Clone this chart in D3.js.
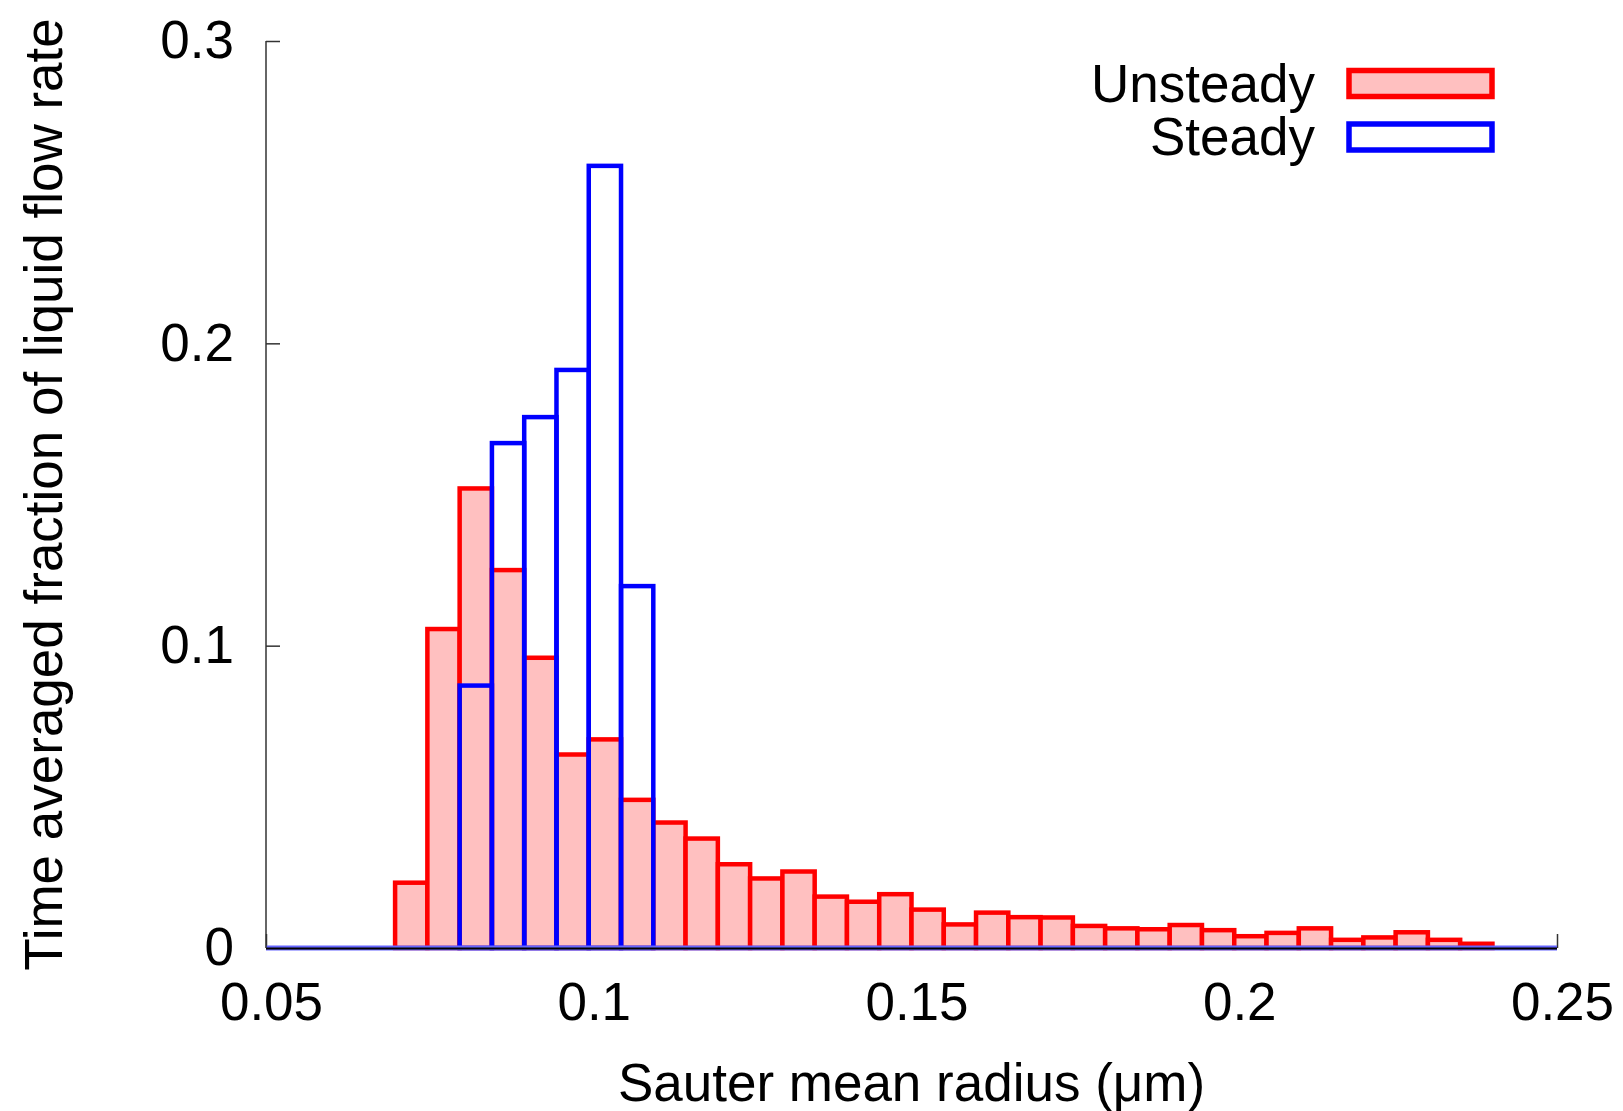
<!DOCTYPE html>
<html>
<head>
<meta charset="utf-8">
<script src="https://cdn.jsdelivr.net/npm/d3@7"></script>
<style>
  body { margin: 0; background: #fff; }
  text { font-family: "Liberation Sans", Arial, sans-serif; fill: #000; }
</style>
</head>
<body>
<div class="chart"></div>
<script>
// chart size
var width = 1623;
var height = 1111;
var plot = { left: 266, right: 1557, top: 41, bottom: 948 };

// bin width (um)
var binWidth = 0.005;

// unsteady histogram: left edge of each bin and its value
var unsteadyBins = [0.07, 0.075, 0.08, 0.085, 0.09, 0.095, 0.1, 0.105, 0.11, 0.115,
                    0.12, 0.125, 0.13, 0.135, 0.14, 0.145, 0.15, 0.155, 0.16, 0.165,
                    0.17, 0.175, 0.18, 0.185, 0.19, 0.195, 0.2, 0.205, 0.21, 0.215,
                    0.22, 0.225, 0.23, 0.235];
var unsteadyValues = [0.0216, 0.1055, 0.152, 0.125, 0.096, 0.064, 0.069, 0.049, 0.0415, 0.0362,
                      0.0277, 0.023, 0.0253, 0.017, 0.0153, 0.0178, 0.0127, 0.0078, 0.0117, 0.0102,
                      0.0101, 0.0073, 0.0065, 0.0062, 0.0076, 0.0059, 0.0039, 0.005, 0.0065, 0.0027,
                      0.0035, 0.0052, 0.0027, 0.0014];

// steady histogram
var steadyBins = [0.08, 0.085, 0.09, 0.095, 0.1, 0.105];
var steadyValues = [0.0868, 0.167, 0.1756, 0.1912, 0.2587, 0.1197];

// ticks
var xTicks = [0.05, 0.1, 0.15, 0.2, 0.25];
var xTickLabels = ["0.05", "0.1", "0.15", "0.2", "0.25"];
var yTicks = [0, 0.1, 0.2, 0.3];
var yTickLabels = ["0", "0.1", "0.2", "0.3"];

var seriesNames = ["Unsteady", "Steady"];

const svg = d3.select(".chart")
              .append("svg")
              .attr("width", width)
              .attr("height", height);

var x = d3.scaleLinear().domain([0.05, 0.25]).range([plot.left, plot.right]);
var y = d3.scaleLinear().domain([0, 0.3]).range([plot.bottom, plot.top]);

// axes (ticks point inward)
const xAxis = d3.axisBottom(x)
                .tickValues(xTicks)
                .tickFormat((d, i) => xTickLabels[i])
                .tickSizeInner(-14)
                .tickSizeOuter(0)
                .tickPadding(34);
const yAxis = d3.axisLeft(y)
                .tickValues(yTicks)
                .tickFormat((d, i) => yTickLabels[i])
                .tickSizeInner(-14)
                .tickSizeOuter(0)
                .tickPadding(32);

svg.append("g")
   .attr("transform", "translate(0," + plot.bottom + ")")
   .call(xAxis)
   .call(g => g.select(".domain").remove())
   .call(g => g.selectAll(".tick line").attr("stroke", "#333").attr("stroke-width", 1.5))
   .call(g => g.selectAll(".tick text").attr("font-size", 53).attr("dx", 5).attr("font-family", "Liberation Sans, Arial, sans-serif").attr("fill", "#000"));

svg.append("g")
   .attr("transform", "translate(" + plot.left + ",0)")
   .call(yAxis)
   .call(g => g.select(".domain").remove())
   .call(g => g.selectAll(".tick line").attr("stroke", "#333").attr("stroke-width", 1.5))
   .call(g => g.selectAll(".tick text").attr("font-size", 53).attr("font-family", "Liberation Sans, Arial, sans-serif").attr("fill", "#000"));

// unsteady bars
svg.append("g")
   .selectAll("rect")
   .data(unsteadyValues)
   .enter()
   .append("rect")
   .attr("x", (d, i) => x(unsteadyBins[i]))
   .attr("y", d => y(d))
   .attr("width", (d, i) => x(unsteadyBins[i] + binWidth) - x(unsteadyBins[i]))
   .attr("height", d => y(0) - y(d))
   .attr("fill", "#ffc0c0")
   .attr("stroke", "#ff0000")
   .attr("stroke-width", 4.5);

// steady bars
svg.append("g")
   .selectAll("rect")
   .data(steadyValues)
   .enter()
   .append("rect")
   .attr("x", (d, i) => x(steadyBins[i]))
   .attr("y", d => y(d))
   .attr("width", (d, i) => x(steadyBins[i] + binWidth) - x(steadyBins[i]))
   .attr("height", d => y(0) - y(d))
   .attr("fill", "none")
   .attr("stroke", "#0000ff")
   .attr("stroke-width", 4.5);

// baseline: zero bins of steady series + black axis
svg.append("line")
   .attr("x1", x(0.05)).attr("x2", x(0.25))
   .attr("y1", y(0)).attr("y2", y(0))
   .attr("stroke", "#6666ff").attr("stroke-width", 5);
svg.append("line")
   .attr("x1", x(0.05)).attr("x2", x(0.25))
   .attr("y1", y(0) + 0.5).attr("y2", y(0) + 0.5)
   .attr("stroke", "#000").attr("stroke-width", 2);

// left axis line
svg.append("line")
   .attr("x1", plot.left).attr("x2", plot.left)
   .attr("y1", plot.top).attr("y2", plot.bottom)
   .attr("stroke", "#333").attr("stroke-width", 1.5);

// axis titles
svg.append("text")
   .attr("x", (plot.left + plot.right) / 2)
   .attr("y", 1101)
   .attr("text-anchor", "middle")
   .attr("font-size", 53)
   .text("Sauter mean radius (\u03bcm)");

svg.append("text")
   .attr("transform", "translate(62," + ((plot.top + plot.bottom) / 2) + ") rotate(-90)")
   .attr("text-anchor", "middle")
   .attr("font-size", 53)
   .text("Time averaged fraction of liquid flow rate");

// legend
var legend = svg.append("g").attr("id", "legend");
var legendFill = ["#ffc0c0", "none"];
var legendStroke = ["#ff0000", "#0000ff"];
var legendRowY = [70.5, 124];

legend.selectAll("rect")
      .data(seriesNames)
      .enter()
      .append("rect")
      .attr("x", 1349)
      .attr("y", (d, i) => legendRowY[i])
      .attr("width", 143)
      .attr("height", 26)
      .attr("fill", (d, i) => legendFill[i])
      .attr("stroke", (d, i) => legendStroke[i])
      .attr("stroke-width", 5.5);

legend.selectAll("text")
      .data(seriesNames)
      .enter()
      .append("text")
      .attr("x", 1315)
      .attr("y", (d, i) => legendRowY[i] + 31)
      .attr("text-anchor", "end")
      .attr("font-size", 53)
      .text(d => d);
</script>
</body>
</html>
